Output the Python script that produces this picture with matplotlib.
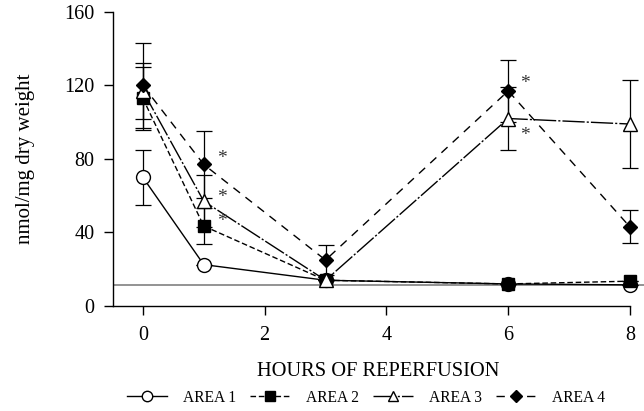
import matplotlib
matplotlib.use('Agg')
from matplotlib import pyplot as plt

plt.rcParams['font.family'] = ['Liberation Serif', 'DejaVu Serif']

# hours of reperfusion
hours = [0, 1, 3, 6, 8]

# nmol/mg dry weight, mean and error for each area
area1 = [70, 22.5, 14, 12, 11.5]
area1_err = [15, 0, 0, 0, 0]
area2 = [113, 43.5, 14, 12, 13.5]
area2_err = [17, 10, 0, 0, 0]
area3 = [117, 57, 14, 102, 99]
area3_err = [15, 14, 0, 17, 24]
area4 = [120, 77, 25, 117, 43]
area4_err = [23, 18, 8, 17, 9]

baseline = 11.4

# significance marks (x, y)
stars = [(1.3, 80), (1.3, 59), (1.3, 46), (6.28, 121), (6.28, 93), (8.3, 107)]

fig = plt.figure(figsize=(6.44, 4.11), dpi=100)
ax = fig.add_axes([0.1755, 0.2555, 0.8245, 0.7155])

ax.axhline(baseline, color='#8a8a8a', lw=1.3, zorder=1)

series = [
    (area1, area1_err, 'o', 'white', '-', 10, 'AREA 1'),
    (area2, area2_err, 's', 'black', (0, (4, 2)), 9, 'AREA 2'),
    (area3, area3_err, '^', 'white', (0, (16, 1.5, 1.5, 1.5)), 10, 'AREA 3'),
    (area4, area4_err, 'D', 'black', (0, (6, 5)), 7.5, 'AREA 4'),
]
handles = []
for vals, err, mk, fc, ls, ms, lab in series:
    ax.errorbar(hours, vals, yerr=err, fmt='none', ecolor='black',
                elinewidth=0.9, capsize=6, capthick=0.9, zorder=2)
    h, = ax.plot(hours, vals, marker=mk, markerfacecolor=fc, markeredgecolor='black',
                 markeredgewidth=1.0, color='black', linestyle=ls, lw=1.0,
                 markersize=ms, zorder=3, label=lab)
    handles.append(h)

for sx, sy in stars:
    ax.text(sx, sy, '*', fontsize=14, color='#333333', ha='center', va='center')

ax.set_xlim(-0.49, 8.23)
ax.set_ylim(0, 160)
ax.set_xticks([0, 2, 4, 6, 8])
ax.set_yticks([0, 40, 80, 120, 160])
ax.spines['top'].set_visible(False)
ax.spines['right'].set_visible(False)
ax.spines['bottom'].set_bounds(-0.49, 8)
ax.spines['left'].set_linewidth(1.0)
ax.spines['bottom'].set_linewidth(1.0)
ax.tick_params(axis='both', direction='out', length=6.5, width=1, labelsize=14.5)
ax.tick_params(axis='x', pad=8)
ax.tick_params(axis='y', pad=7)

ax.set_xlabel('HOURS OF REPERFUSION', fontsize=14.7, labelpad=12)
ax.set_ylabel('nmol/mg dry weight', fontsize=15, labelpad=21)

fig.legend(handles=handles, loc='center', bbox_to_anchor=(0.568, 0.032), ncol=4,
           frameon=False, fontsize=11.2, handlelength=2.6, columnspacing=0.9,
           handletextpad=1.0, markerscale=0.75)

fig.savefig('out.png', dpi=100)
